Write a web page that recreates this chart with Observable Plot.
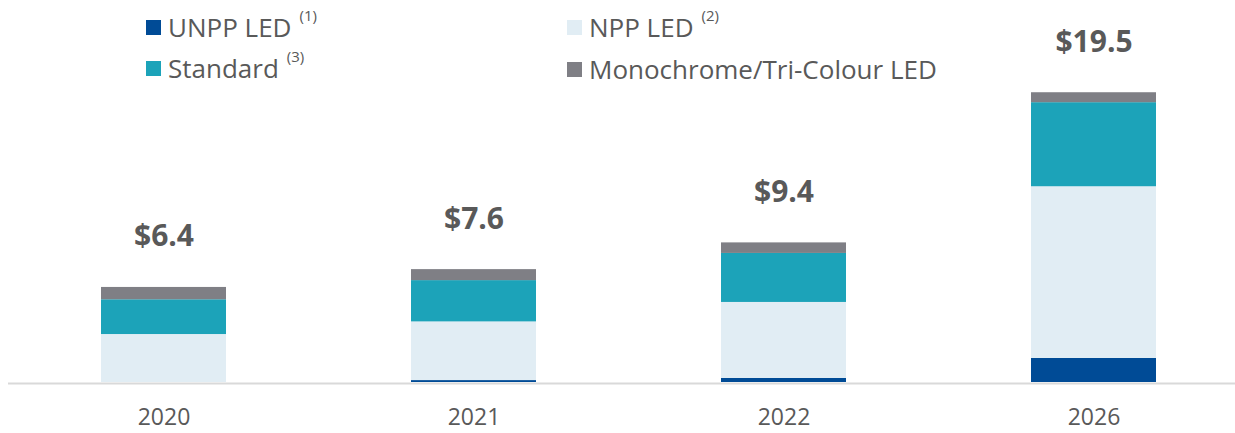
<!DOCTYPE html>
<html>
<head>
<meta charset="utf-8">
<script src="https://cdn.jsdelivr.net/npm/d3@7"></script>
<script src="https://cdn.jsdelivr.net/npm/@observablehq/plot@0.6"></script>
<style>
  html, body { margin: 0; padding: 0; background: #fff; }
  #wrap { position: relative; width: 1235px; height: 433px; overflow: hidden; font-family: "Open Sans", "Lato", sans-serif; color: #595959; }
  #chart { position: absolute; left: 0; top: 0; }
  .leg { position: absolute; display: flex; align-items: center; white-space: nowrap; font-size: 26px; line-height: 30px; color: #595959; }
  .sw { width: 15px; height: 15px; margin-right: 7px; flex: none; }
  .leg sup { font-size: 15px; position: relative; top: -12px; margin-left: 8px; vertical-align: top; line-height: 15px; }
</style>
</head>
<body>
<div id="wrap">
  <div id="chart"></div>
</div>
<script>
const years = ["2020", "2021", "2022", "2026"];
const seriesNames = ["UNPP LED", "NPP LED", "Standard", "Monochrome/Tri-Colour LED"];
const footnotes = ["(1)", "(2)", "(3)", ""];
const colors = ["#004b96", "#e1edf4", "#1ca3b9", "#7f7f85"];
const unppLed = [0, 0.13, 0.27, 1.62];
const nppLed = [3.23, 3.95, 5.12, 11.56];
const standard = [2.34, 2.78, 3.30, 5.66];
const mono = [0.83, 0.74, 0.71, 0.67];
const totalLabels = ["$6.4", "$7.6", "$9.4", "$19.5"];

const seriesValues = [unppLed, nppLed, standard, mono];
const data = [];
seriesNames.forEach((s, si) => years.forEach((y, yi) => data.push({year: y, series: s, value: seriesValues[si][yi]})));
const totals = years.map((y, yi) => ({year: y, sum: d3.sum(seriesValues, v => v[yi]), label: totalLabels[yi]}));

const chart = Plot.plot({
  width: 1235,
  height: 433,
  marginLeft: 8,
  marginRight: 0,
  marginTop: 0,
  marginBottom: 51,
  style: {fontFamily: "'Open Sans', Lato, sans-serif", color: "#595959", background: "#fff"},
  x: {type: "band", domain: years, paddingInner: 0.597, paddingOuter: 0.2774, align: 0.5407, label: null},
  y: {domain: [0, 25.72], axis: null},
  color: {domain: seriesNames, range: colors},
  marks: [
    Plot.barY(data, {x: "year", y: "value", fill: "series", order: seriesNames}),
    Plot.ruleY([0], {stroke: "#d9d9d9", strokeWidth: 2, dy: 1}),
    Plot.text(totals, {x: "year", y: "sum", text: "label", dy: -41, lineAnchor: "bottom", fontSize: 30, fontWeight: "bold", fill: "#595959"}),
    Plot.axisX({tickSize: 0, tickPadding: 26, fontSize: 23, fill: "#595959", label: null})
  ]
});
document.getElementById("chart").appendChild(chart);

// Legend (HTML, overlaid at the top)
const legPos = [
  {left: 146, top: 12},
  {left: 567, top: 12},
  {left: 146, top: 53},
  {left: 567, top: 54}
];
const wrap = document.getElementById("wrap");
seriesNames.forEach((name, i) => {
  const d = document.createElement("div");
  d.className = "leg";
  d.style.left = legPos[i].left + "px";
  d.style.top = legPos[i].top + "px";
  const sw = document.createElement("span");
  sw.className = "sw";
  sw.style.background = colors[i];
  d.appendChild(sw);
  const t = document.createElement("span");
  t.textContent = name;
  d.appendChild(t);
  if (footnotes[i]) {
    const s = document.createElement("sup");
    s.textContent = footnotes[i];
    d.appendChild(s);
  }
  wrap.appendChild(d);
});
</script>
</body>
</html>
